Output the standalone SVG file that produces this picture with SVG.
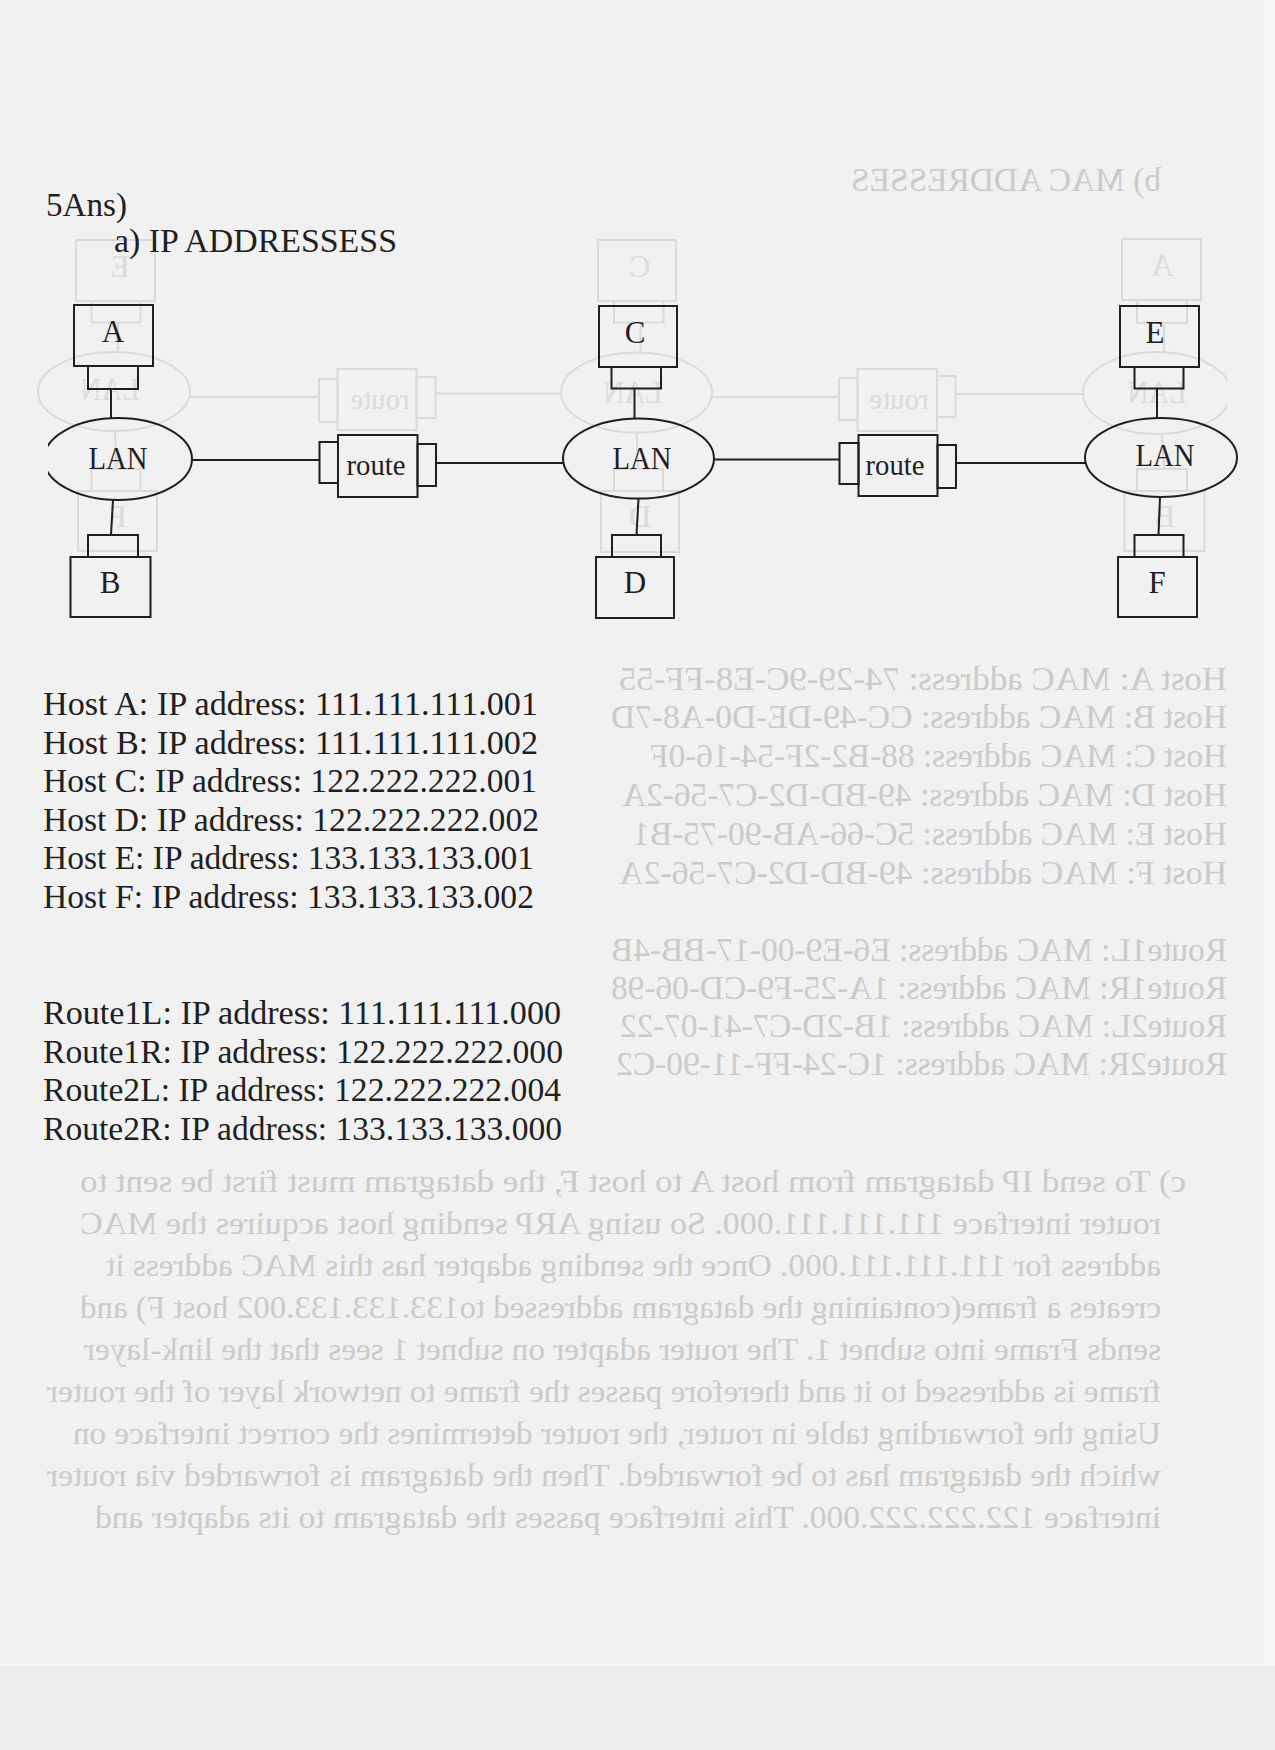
<svg xmlns="http://www.w3.org/2000/svg" width="1275" height="1750" viewBox="0 0 1275 1750">
<style>
.s{fill:none;stroke:currentColor;stroke-width:2}
.t{font-family:'Liberation Serif','Times New Roman',serif;fill:currentColor}
.m{text-anchor:middle;font-size:31px}
.b{font-size:33.5px}
.g{font-family:'Liberation Serif','Times New Roman',serif;fill:#cacaca;font-size:33px}
.p{font-size:31.5px}
</style>
<defs>
<clipPath id="lan1clip"><rect x="48" y="400" width="200" height="120"/></clipPath>
</defs>
<rect width="1275" height="1750" fill="#f1f1f1"/>
<rect x="1264" y="0" width="11" height="1665" fill="#f6f6f6"/>
<rect x="0" y="1665" width="1275" height="85" fill="#ecedea"/>
<line x1="0" y1="1664.5" x2="1275" y2="1664.5" stroke="#fbfbfb" stroke-width="2"/>

<g id="ghost" transform="matrix(-1 0 0 1 1275 0)">
<use href="#diagram" transform="translate(0,-66)" style="color:#dadada"/>
<g class="g">
<text x="114" y="191" textLength="310" lengthAdjust="spacingAndGlyphs">b) MAC ADDRESSES</text>
<text x="48" y="690" textLength="608" lengthAdjust="spacingAndGlyphs">Host A: MAC address: 74-29-9C-E8-FF-55</text>
<text x="48" y="728" textLength="616" lengthAdjust="spacingAndGlyphs">Host B: MAC address: CC-49-DE-D0-A8-7D</text>
<text x="48" y="767" textLength="577" lengthAdjust="spacingAndGlyphs">Host C: MAC address: 88-B2-2F-54-16-0F</text>
<text x="48" y="806" textLength="605" lengthAdjust="spacingAndGlyphs">Host D: MAC address: 49-BD-D2-C7-56-2A</text>
<text x="48" y="845" textLength="594" lengthAdjust="spacingAndGlyphs">Host E: MAC address: 5C-66-AB-90-75-B1</text>
<text x="48" y="884" textLength="608" lengthAdjust="spacingAndGlyphs">Host F:  MAC address: 49-BD-D2-C7-56-2A</text>
<text x="48" y="961" textLength="616" lengthAdjust="spacingAndGlyphs">Route1L: MAC address: E6-E9-00-17-BB-4B</text>
<text x="48" y="999" textLength="616" lengthAdjust="spacingAndGlyphs">Route1R: MAC address: 1A-25-F9-CD-06-98</text>
<text x="48" y="1037" textLength="607" lengthAdjust="spacingAndGlyphs">Route2L: MAC address: 1B-2D-C7-41-07-22</text>
<text x="48" y="1075" textLength="611" lengthAdjust="spacingAndGlyphs">Route2R: MAC address: 1C-24-FF-11-90-C2</text>
<g class="p">
<text x="89" y="1191.5" textLength="1106" lengthAdjust="spacingAndGlyphs">c)  To send IP datagram from host A to host F, the datagram must first be sent to</text>
<text x="114" y="1233.5" textLength="1081" lengthAdjust="spacingAndGlyphs">router   interface 111.111.111.000. So using ARP sending host acquires the MAC</text>
<text x="114" y="1275.5" textLength="1055" lengthAdjust="spacingAndGlyphs">address for 111.111.111.000. Once the sending adapter has this MAC address it</text>
<text x="114" y="1317.5" textLength="1081" lengthAdjust="spacingAndGlyphs">creates a frame(containing the datagram addressed to133.133.133.002 host F) and</text>
<text x="114" y="1359.5" textLength="1077" lengthAdjust="spacingAndGlyphs">sends Frame into subnet 1. The router adapter on subnet 1 sees that the link-layer</text>
<text x="114" y="1401.5" textLength="1114" lengthAdjust="spacingAndGlyphs">frame is addressed to it and therefore passes the frame to network layer of the router</text>
<text x="114" y="1443.5" textLength="1088" lengthAdjust="spacingAndGlyphs">Using the forwarding table in router, the router determines the correct interface on</text>
<text x="114" y="1485.5" textLength="1114" lengthAdjust="spacingAndGlyphs">which the datagram has to be forwarded. Then the datagram is forwarded via router</text>
<text x="114" y="1527.5" textLength="1066" lengthAdjust="spacingAndGlyphs">interface 122.222.222.000. This interface passes the datagram to its adapter and</text>
</g>
</g>
</g>

<g id="front" style="color:#1f1f1f">
<g id="heading" class="t">
<text x="46" y="215.5" font-size="33" textLength="81" lengthAdjust="spacingAndGlyphs">5Ans)</text>
<text x="114" y="252" font-size="33" textLength="283" lengthAdjust="spacingAndGlyphs">a) IP ADDRESSESS</text>
</g>

<g id="diagram">
<g id="connectors" class="s">
<line x1="111" y1="389" x2="111" y2="418"/>
<line x1="113" y1="500" x2="111" y2="535"/>
<line x1="192" y1="460" x2="319.5" y2="460"/>
<line x1="436" y1="463" x2="563" y2="463"/>
<line x1="634.5" y1="388.5" x2="634.5" y2="419"/>
<line x1="638.5" y1="498.5" x2="636.5" y2="535"/>
<line x1="714" y1="459.5" x2="839.5" y2="459.5"/>
<line x1="956" y1="463" x2="1085" y2="463"/>
<line x1="1157" y1="388.5" x2="1157" y2="418.5"/>
<line x1="1160" y1="497" x2="1158.5" y2="535"/>
</g>
<g id="hostA">
<rect class="s" x="74" y="305" width="79" height="61"/>
<rect class="s" x="88" y="366" width="50" height="23"/>
<text class="t m" x="113" y="342">A</text>
</g>
<g id="hostB">
<rect class="s" x="70.5" y="557" width="80" height="60"/>
<rect class="s" x="88" y="535" width="50" height="22"/>
<text class="t m" x="110" y="593">B</text>
</g>
<g id="hostC">
<rect class="s" x="599" y="306" width="78" height="61"/>
<rect class="s" x="611.5" y="367" width="49.5" height="21.5"/>
<text class="t m" x="635" y="343">C</text>
</g>
<g id="hostD">
<rect class="s" x="596" y="557" width="78" height="61"/>
<rect class="s" x="612" y="535" width="49" height="22"/>
<text class="t m" x="635" y="593">D</text>
</g>
<g id="hostE">
<rect class="s" x="1120" y="306" width="79" height="61"/>
<rect class="s" x="1134.5" y="367" width="49" height="21.5"/>
<text class="t m" x="1155" y="343">E</text>
</g>
<g id="hostF">
<rect class="s" x="1118" y="557" width="79" height="60"/>
<rect class="s" x="1134.5" y="535" width="49" height="22"/>
<text class="t m" x="1157" y="593">F</text>
</g>
<g id="lan1">
<ellipse class="s" cx="118" cy="459" rx="74" ry="41" clip-path="url(#lan1clip)"/>
<text class="t m" x="118" y="469" textLength="59" lengthAdjust="spacingAndGlyphs">LAN</text>
</g>
<g id="lan2">
<ellipse class="s" cx="638.5" cy="458.5" rx="75.5" ry="40"/>
<text class="t m" x="642" y="469" textLength="59" lengthAdjust="spacingAndGlyphs">LAN</text>
</g>
<g id="lan3">
<ellipse class="s" cx="1161" cy="457.5" rx="76" ry="39.5"/>
<text class="t m" x="1165" y="466" textLength="59" lengthAdjust="spacingAndGlyphs">LAN</text>
</g>
<g id="router1">
<rect class="s" x="319.5" y="442" width="18.5" height="41"/>
<rect class="s" x="417.5" y="444" width="18.5" height="42"/>
<rect class="s" x="338" y="435" width="79.5" height="62"/>
<text class="t m" x="376" y="475" textLength="59" lengthAdjust="spacingAndGlyphs" style="font-size:30px">route</text>
</g>
<g id="router2">
<rect class="s" x="839.5" y="443" width="19" height="41"/>
<rect class="s" x="937.5" y="445" width="18.5" height="43"/>
<rect class="s" x="858.5" y="435" width="79" height="61"/>
<text class="t m" x="895" y="475" textLength="59" lengthAdjust="spacingAndGlyphs" style="font-size:30px">route</text>
</g>
</g>

<g id="ip-addresses" class="t b">
<text x="43" y="715" textLength="495" lengthAdjust="spacingAndGlyphs">Host A: IP address: 111.111.111.001</text>
<text x="43" y="753.5" textLength="495" lengthAdjust="spacingAndGlyphs">Host B: IP address: 111.111.111.002</text>
<text x="43" y="792" textLength="494" lengthAdjust="spacingAndGlyphs">Host C: IP address: 122.222.222.001</text>
<text x="43" y="830.5" textLength="496" lengthAdjust="spacingAndGlyphs">Host D: IP address: 122.222.222.002</text>
<text x="43" y="869" textLength="491" lengthAdjust="spacingAndGlyphs">Host E: IP address: 133.133.133.001</text>
<text x="43" y="907.5" textLength="491" lengthAdjust="spacingAndGlyphs">Host F: IP address: 133.133.133.002</text>
<text x="43" y="1024" textLength="518" lengthAdjust="spacingAndGlyphs">Route1L: IP address: 111.111.111.000</text>
<text x="43" y="1062.5" textLength="520" lengthAdjust="spacingAndGlyphs">Route1R: IP address: 122.222.222.000</text>
<text x="43" y="1101" textLength="518" lengthAdjust="spacingAndGlyphs">Route2L: IP address: 122.222.222.004</text>
<text x="43" y="1139.5" textLength="519" lengthAdjust="spacingAndGlyphs">Route2R: IP address: 133.133.133.000</text>
</g>
</g>
</svg>
